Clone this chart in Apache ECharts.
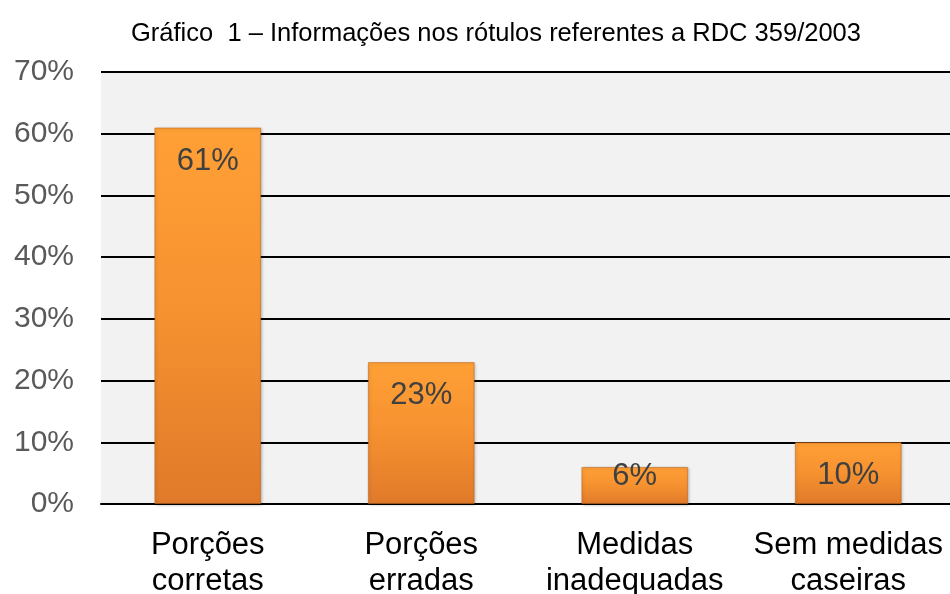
<!DOCTYPE html>
<html>
<head>
<meta charset="utf-8">
<script src="https://cdn.jsdelivr.net/npm/echarts@6/dist/echarts.min.js"></script>
<style>
    html, body { margin: 0; padding: 0; background: #fff; }
    #chart { width: 950px; height: 594px; }
</style>
</head>
<body>
<div id="chart"></div>
<script>
var titleText = 'Gráfico  1 – Informações nos rótulos referentes a RDC 359/2003';
var categories = ['Porções\ncorretas', 'Porções\nerradas', 'Medidas\ninadequadas', 'Sem medidas\ncaseiras'];
var values = [61, 23, 6, 10];
var yTicks = [0, 10, 20, 30, 40, 50, 60, 70];

var font = 'Arial, "Liberation Sans", sans-serif';

var barColor = new echarts.graphic.LinearGradient(0, 0, 0, 1, [
    { offset: 0, color: '#ffa036' },
    { offset: 0.5, color: '#f69130' },
    { offset: 1, color: '#e07a2a' }
]);

// small bars get the label centred instead of hanging from the top
var seriesData = values.map(function (v) {
    var item = { value: v };
    if (v < 8) {
        item.label = { position: 'inside', offset: [0, -9] };
    }
    return item;
});

var chart = echarts.init(document.getElementById('chart'));
chart.setOption({
    animation: false,
    title: {
        text: titleText,
        left: 491,
        top: 16,
        textAlign: 'center',
        textStyle: { fontFamily: font, fontSize: 25.5, fontWeight: 'normal', color: '#000' }
    },
    grid: {
        left: 101,
        right: -5,
        top: 72,
        bottom: 90,
        outerBoundsMode: 'none',
        show: true,
        backgroundColor: '#f2f2f2',
        borderWidth: 0
    },
    xAxis: {
        type: 'category',
        data: categories,
        axisTick: { show: false },
        axisLine: { lineStyle: { color: '#000', width: 2 } },
        axisLabel: {
            fontFamily: font,
            fontSize: 31,
            color: '#000',
            lineHeight: 36,
            margin: 23,
            interval: 0
        }
    },
    yAxis: {
        type: 'value',
        min: yTicks[0],
        max: yTicks[yTicks.length - 1],
        interval: 10,
        axisLine: { show: false },
        axisTick: { show: false },
        splitLine: { lineStyle: { color: '#000', width: 2 } },
        axisLabel: {
            fontFamily: font,
            fontSize: 30,
            color: '#595959',
            margin: 27,
            formatter: '{value}%'
        }
    },
    series: [{
        type: 'bar',
        data: seriesData,
        barWidth: '50%',
        itemStyle: {
            color: barColor,
            borderColor: 'rgba(190,100,30,0.55)',
            borderWidth: 1,
            shadowColor: 'rgba(0,0,0,0.25)',
            shadowBlur: 3,
            shadowOffsetX: 1,
            shadowOffsetY: 1
        },
        label: {
            show: true,
            position: 'insideTop',
            distance: 18,
            formatter: '{c}%',
            fontFamily: font,
            fontSize: 31,
            color: '#404040'
        }
    }]
});
</script>
</body>
</html>
